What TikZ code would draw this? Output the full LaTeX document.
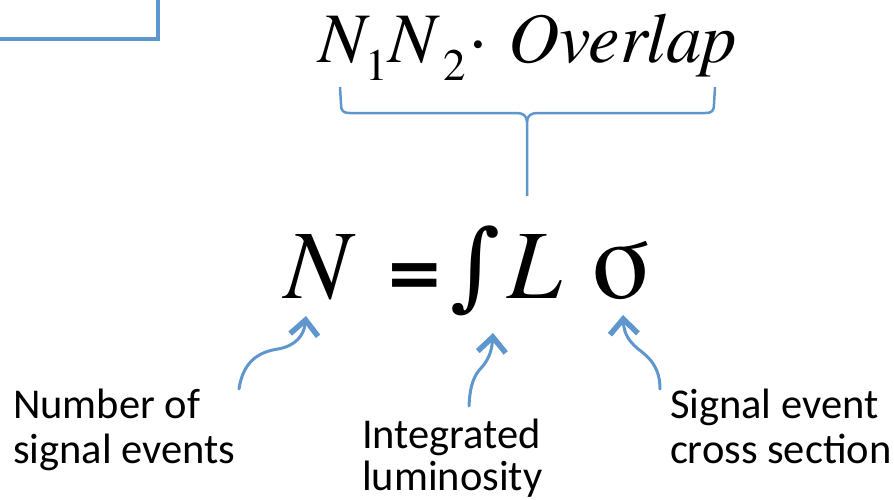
\documentclass[tikz,border=0pt]{standalone}
\usepackage{fontspec}
\newfontfamily\serfont{texgyretermes}[Extension=.otf, UprightFont=*-regular, ItalicFont=*-italic, BoldFont=*-bold, BoldItalicFont=*-bolditalic]
\newfontfamily\intfont{DejaVu Serif}
\newfontfamily\labfont{Carlito}
\usetikzlibrary{arrows.meta}
\definecolor{lineblue}{RGB}{95,150,205}
\tikzset{
  x=1pt, y=-1pt,
  txt/.style={inner sep=0pt, outer sep=0pt, anchor=base west},
  topf/.style={txt, font=\serfont\fontsize{71}{71}\selectfont\itshape},
  topsub/.style={txt, font=\serfont\fontsize{45}{45}\selectfont},
  mainf/.style={txt, font=\serfont\fontsize{98}{98}\selectfont\itshape},
  lab/.style={txt, font=\labfont\fontsize{42.5}{45}\selectfont},
  curvy/.style={draw=lineblue, line width=3pt, line cap=round,
    -{Straight Barb[length=15pt, width=28pt, line width=5.5pt, line cap=butt]}},
  bracel/.style={draw=lineblue, line width=2.5pt},
  boxl/.style={draw=lineblue, line width=4pt}
}
\begin{document}
\begin{tikzpicture}
\useasboundingbox (0,0) rectangle (894,499);
\clip (0,0) rectangle (894,499);
% box corner
\draw[boxl] (-10,39) -- (158,39) -- (158,-10);
% top formula
\node[topf] (n1) at (318,62) {N};
\node[topsub] (s1) at (365,80) {1};
\node[topf] (n2) at (388,62) {N};
\node[topsub] (s2) at (443,80) {2};
\node[txt, anchor=base, font=\serfont\fontsize{71}{71}\selectfont] (dot) at (478,62) {·};
\node[topf] (ov) at (508,62) {Overlap};
% brace
\coordinate (bl) at (340,87);
\coordinate (br) at (715,87);
\coordinate (bc) at (527,122);
\coordinate (bb) at (527,196);
\draw[bracel] (bl) -- (341,104) .. controls (341,111) and (343,113) .. (350,113)
  -- (517,113) .. controls (523,113) and (527,116) .. (bc) -- (bb);
\draw[bracel] (br) -- (714,104) .. controls (714,111) and (712,113) .. (705,113)
  -- (537,113) .. controls (531,113) and (527,116) .. (bc);
% main formula
\node[mainf] (mN) at (284,298) {N};
\node[txt, anchor=base, font=\serfont\fontsize{92}{92}\selectfont\bfseries] (eq) at (415,298) {=};
\node[txt, font=\intfont\fontsize{96}{96}\selectfont] (int) at (450,298) {∫};
\node[mainf] (mL) at (507,298) {L};
\node[txt, font=\serfont\fontsize{112}{112}\selectfont] (sig) at (591,298) {σ};
% labels
\node[lab] (l1a) at (13,418) {Number of};
\node[lab] (l1b) at (13,463) {signal events};
\node[lab] (l2a) at (362,448) {Integrated};
\node[lab] (l2b) at (362,490) {luminosity};
\node[lab] (l3a) at (670,418) {Signal event};
\node[lab] (l3b) at (670,463) {cross section};
% arrows
\coordinate (a1s) at (239,389);
\coordinate (a1t) at (306,316);
\coordinate (a2s) at (469,406);
\coordinate (a2t) at (493,333);
\coordinate (a3s) at (660,389);
\coordinate (a3t) at (623,315);
\draw[curvy] (a1s) .. controls (243,362) and (258,352) .. (278,349)
  .. controls (295,346) and (304,336) .. (a1t);
\draw[curvy] (a2s) .. controls (470,385) and (474,375) .. (482,367)
  .. controls (490,358) and (492,348) .. (a2t);
\draw[curvy] (a3s) .. controls (660,370) and (652,360) .. (642,352)
  .. controls (630,343) and (624,335) .. (a3t);
\end{tikzpicture}
\end{document}
